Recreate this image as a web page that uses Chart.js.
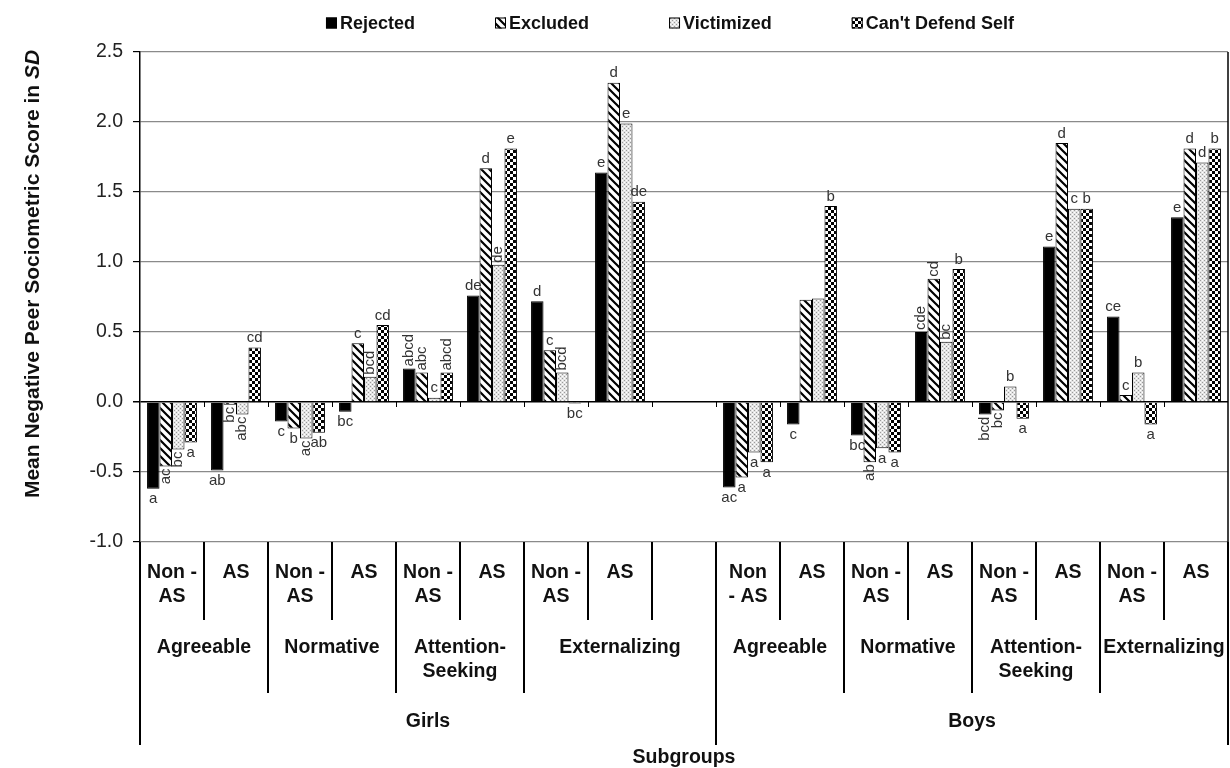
<!DOCTYPE html>
<html>
<head>
<meta charset="utf-8">
<script src="https://cdn.jsdelivr.net/npm/chart.js@4.4.1/dist/chart.umd.min.js"></script>
<style>
  html, body { margin: 0; padding: 0; background: #fff; }
</style>
</head>
<body>
<canvas id="grafico" width="1230" height="768"></canvas>
<script>
// categories (17 slots, one empty spacer between Girls and Boys)
const slotKeys = ["G-Agr-N", "G-Agr-A", "G-Nor-N", "G-Nor-A", "G-Att-N", "G-Att-A", "G-Ext-N", "G-Ext-A", "gap",
                  "B-Agr-N", "B-Agr-A", "B-Nor-N", "B-Nor-A", "B-Att-N", "B-Att-A", "B-Ext-N", "B-Ext-A"];
const slotLines = [["Non -", "AS"], ["AS"], ["Non -", "AS"], ["AS"], ["Non -", "AS"], ["AS"], ["Non -", "AS"], ["AS"], [],
                   ["Non", "- AS"], ["AS"], ["Non -", "AS"], ["AS"], ["Non -", "AS"], ["AS"], ["Non -", "AS"], ["AS"]];
const typeGroups = [
  { name: ["Agreeable"], first: 0, last: 1 },
  { name: ["Normative"], first: 2, last: 3 },
  { name: ["Attention-", "Seeking"], first: 4, last: 5 },
  { name: ["Externalizing"], first: 6, last: 8 },
  { name: ["Agreeable"], first: 9, last: 10 },
  { name: ["Normative"], first: 11, last: 12 },
  { name: ["Attention-", "Seeking"], first: 13, last: 14 },
  { name: ["Externalizing"], first: 15, last: 16 }
];
const genders = [
  { name: "Girls", first: 0, last: 8 },
  { name: "Boys", first: 9, last: 16 }
];

// series values (mean score in SD)
const rejected   = [-0.62, -0.49, -0.14, -0.07, 0.24, 0.76, 0.72, 1.64, null, -0.61, -0.16, -0.24, 0.50, -0.09, 1.11, 0.61, 1.32];
const excluded   = [-0.46, -0.02, -0.19, 0.42, 0.21, 1.67, 0.37, 2.28, null, -0.54, 0.73, -0.43, 0.88, -0.06, 1.85, 0.05, 1.81];
const victimized = [-0.34, -0.09, -0.26, 0.18, 0.03, 0.98, 0.21, 1.99, null, -0.36, 0.74, -0.33, 0.43, 0.11, 1.38, 0.21, 1.71];
const cantDefend = [-0.29, 0.39, -0.22, 0.55, 0.21, 1.81, -0.01, 1.43, null, -0.43, 1.40, -0.36, 0.95, -0.12, 1.38, -0.16, 1.81];

// significance letters
const rejLetters = ["a", "ab", "c", "bc", "abcd", "de", "d", "e", "", "ac", "c", "bc", "cde", "bcd", "e", "ce", "e"];
const excLetters = ["ac", "bc", "b", "c", "abc", "d", "c", "d", "", "a", "", "ab", "cd", "bc", "d", "c", "d"];
const vicLetters = ["bc", "abc", "ac", "bcd", "c", "de", "bcd", "e", "", "a", "", "a", "bc", "b", "c", "b", "d"];
const cdsLetters = ["a", "cd", "ab", "cd", "abcd", "e", "bc", "de", "", "a", "b", "a", "b", "a", "b", "a", "b"];

const yTicks = [-1.0, -0.5, 0.0, 0.5, 1.0, 1.5, 2.0, 2.5];

const FONT = "Arial, 'Liberation Sans', sans-serif";

function makeTile(size, paint) {
    const c = document.createElement("canvas");
    c.width = size;
    c.height = size;
    const g = c.getContext("2d");
    paint(g);
    return g.createPattern(c, "repeat");
}

const stripePattern = makeTile(8, g => {
    g.fillStyle = "#fff";
    g.fillRect(0, 0, 8, 8);
    g.strokeStyle = "#000";
    g.lineWidth = 2.2;
    g.beginPath();
    g.moveTo(-1, -1); g.lineTo(9, 9);
    g.moveTo(-1, 7); g.lineTo(1, 9);
    g.moveTo(7, -1); g.lineTo(9, 1);
    g.stroke();
});

const dotPattern = makeTile(4, g => {
    g.fillStyle = "#e4e4e4";
    g.fillRect(0, 0, 4, 4);
    g.fillStyle = "#9a9a9a";
    g.fillRect(0, 0, 1, 1);
    g.fillRect(2, 2, 1, 1);
    g.fillStyle = "#fff";
    g.fillRect(2, 0, 1, 1);
    g.fillRect(0, 2, 1, 1);
});

const checkPattern = makeTile(6, g => {
    g.fillStyle = "#000";
    g.fillRect(0, 0, 6, 6);
    g.fillStyle = "#fff";
    g.fillRect(0, 0, 3, 3);
    g.fillRect(3, 3, 3, 3);
});

const seriesLetters = [rejLetters, excLetters, vicLetters, cdsLetters];

// letters above / below each bar
const letterPlugin = {
    id: "letters",
    afterDatasetsDraw(chart) {
        const ctx = chart.ctx;
        ctx.save();
        ctx.fillStyle = "#333";
        ctx.font = "15px " + FONT;
        chart.data.datasets.forEach((ds, i) => {
            const meta = chart.getDatasetMeta(i);
            meta.data.forEach((bar, j) => {
                const v = ds.data[j];
                const txt = seriesLetters[i][j];
                if (v === null || !txt) return;
                const up = v >= 0;
                const rotate = txt.length >= 3 || (txt.length === 2 && (i === 1 || i === 2));
                if (rotate) {
                    ctx.save();
                    ctx.translate(bar.x, up ? bar.y - 2 : bar.y + 2);
                    ctx.rotate(-Math.PI / 2);
                    ctx.textAlign = up ? "left" : "right";
                    ctx.textBaseline = "middle";
                    ctx.fillText(txt, 0, 0);
                    ctx.restore();
                } else {
                    ctx.textAlign = "center";
                    ctx.textBaseline = up ? "bottom" : "top";
                    ctx.fillText(txt, bar.x, up ? bar.y - 2 : bar.y + 3);
                }
            });
        });
        ctx.restore();
    }
};

// legend, y title, frame and the multi-level category table
const framePlugin = {
    id: "frame",
    afterDraw(chart) {
        const { ctx, chartArea: a, scales: { x, y } } = chart;
        const n = slotKeys.length;
        const half = (x.getPixelForValue(1) - x.getPixelForValue(0)) / 2;
        const edge = k => k < n ? x.getPixelForValue(k) - half : x.getPixelForValue(n - 1) + half;
        const b = a.bottom;

        ctx.save();
        ctx.strokeStyle = "#000";
        ctx.lineWidth = 1.5;

        // right frame line
        ctx.beginPath();
        ctx.moveTo(a.right, a.top);
        ctx.lineTo(a.right, b + 203);
        ctx.stroke();

        // small ticks on the zero axis
        const y0 = y.getPixelForValue(0);
        ctx.lineWidth = 1;
        ctx.beginPath();
        for (let k = 1; k < n; k++) {
            ctx.moveTo(Math.round(edge(k)) + 0.5, y0);
            ctx.lineTo(Math.round(edge(k)) + 0.5, y0 + 5);
        }
        ctx.stroke();

        // divider lines under the plot
        const depth = new Array(n + 1).fill(78);
        typeGroups.forEach(gr => {
            depth[gr.first] = Math.max(depth[gr.first], 151);
            depth[gr.last + 1] = Math.max(depth[gr.last + 1], 151);
        });
        genders.forEach(gr => {
            depth[gr.first] = 203;
            depth[gr.last + 1] = 203;
        });
        ctx.lineWidth = 2;
        ctx.beginPath();
        for (let k = 0; k <= n; k++) {
            const px = Math.round(edge(k));
            ctx.moveTo(px, b);
            ctx.lineTo(px, b + depth[k]);
        }
        ctx.stroke();

        ctx.fillStyle = "#111";
        ctx.textAlign = "center";
        ctx.textBaseline = "middle";
        ctx.font = "bold 19.5px " + FONT;
        slotLines.forEach((lines, k) => {
            lines.forEach((t, r) => ctx.fillText(t, x.getPixelForValue(k), b + 31 + r * 24));
        });
        typeGroups.forEach(gr => {
            const cx = (edge(gr.first) + edge(gr.last + 1)) / 2;
            gr.name.forEach((t, r) => ctx.fillText(t, cx, b + 106 + r * 24));
        });
        genders.forEach(gr => {
            const cx = (edge(gr.first) + edge(gr.last + 1)) / 2;
            ctx.fillText(gr.name, cx, b + 180);
        });
        ctx.fillText("Subgroups", (a.left + a.right) / 2, b + 216);

        // y axis title with italic SD
        const p1 = "Mean Negative Peer Sociometric Score in ";
        const p2 = "SD";
        ctx.font = "bold 21px " + FONT;
        const w1 = ctx.measureText(p1).width;
        ctx.font = "italic bold 21px " + FONT;
        const w2 = ctx.measureText(p2).width;
        ctx.translate(33, 274);
        ctx.rotate(-Math.PI / 2);
        ctx.textAlign = "left";
        ctx.font = "bold 21px " + FONT;
        ctx.fillText(p1, -(w1 + w2) / 2, 0);
        ctx.font = "italic bold 21px " + FONT;
        ctx.fillText(p2, -(w1 + w2) / 2 + w1, 0);
        ctx.restore();

        // legend
        ctx.save();
        ctx.font = "bold 18px " + FONT;
        ctx.textBaseline = "middle";
        ctx.textAlign = "left";
        const items = chart.data.datasets.map(ds => ({ ds, w: 11 + 3 + ctx.measureText(ds.label).width }));
        const gap = 80;
        const total = items.reduce((s, it) => s + it.w, 0) + gap * (items.length - 1);
        let lx = (a.left + a.right) / 2 - 14 - total / 2;
        const ly = 23;
        items.forEach(it => {
            ctx.fillStyle = it.ds.backgroundColor;
            ctx.fillRect(lx, ly - 5.5, 11, 11);
            ctx.strokeStyle = "#000";
            ctx.lineWidth = 1;
            ctx.strokeRect(lx + 0.5, ly - 5, 10, 10);
            ctx.fillStyle = "#111";
            ctx.fillText(it.ds.label, lx + 14, ly + 1);
            lx += it.w + gap;
        });
        ctx.restore();
    }
};

const ctx = document.getElementById("grafico").getContext("2d");
const chart = new Chart(ctx, {
    type: "bar",
    data: {
        labels: slotKeys,
        datasets: [
            { label: "Rejected", data: rejected, backgroundColor: "#000", borderColor: "#000", borderWidth: 1 },
            { label: "Excluded", data: excluded, backgroundColor: stripePattern, borderColor: "#000", borderWidth: 1 },
            { label: "Victimized", data: victimized, backgroundColor: dotPattern, borderColor: "#000", borderWidth: 1 },
            { label: "Can't Defend Self", data: cantDefend, backgroundColor: checkPattern, borderColor: "#000", borderWidth: 1 }
        ]
    },
    options: {
        responsive: false,
        animation: false,
        devicePixelRatio: 1,
        layout: { padding: { top: 52, right: 2, left: 0, bottom: 0 } },
        datasets: { bar: { categoryPercentage: 0.78, barPercentage: 1.0 } },
        plugins: {
            legend: { display: false },
            tooltip: { enabled: false }
        },
        scales: {
            x: {
                type: "category",
                ticks: { display: false },
                grid: { display: false },
                border: { display: false },
                afterFit: s => { s.height = 226; }
            },
            y: {
                min: -1.0,
                max: 2.5,
                afterBuildTicks: s => { s.ticks = yTicks.map(v => ({ value: v })); },
                afterFit: s => { s.width = 140; },
                ticks: {
                    color: "#222",
                    padding: 10,
                    font: { family: FONT, size: 19.5 },
                    callback: v => Number(v).toFixed(1)
                },
                grid: {
                    color: c => (c.tick && c.tick.value === 0) ? "#000" : "#8a8a8a",
                    lineWidth: c => (c.tick && c.tick.value === 0) ? 1.5 : 1.2,
                    tickColor: "#000",
                    tickLength: 7
                },
                border: { display: true, color: "#000", width: 1.5 }
            }
        }
    },
    plugins: [letterPlugin, framePlugin]
});
</script>
</body>
</html>
